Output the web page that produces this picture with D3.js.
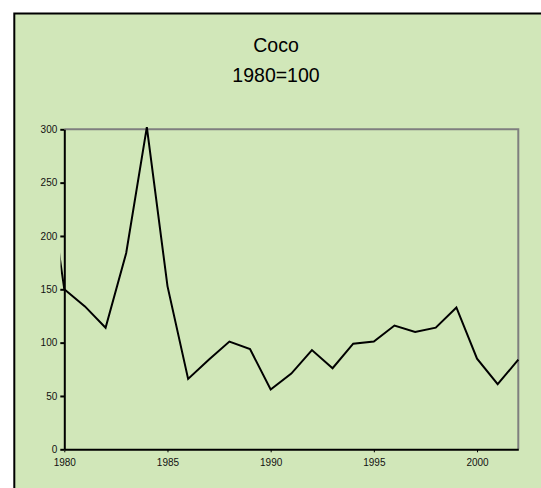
<!DOCTYPE html>
<html>
<head>
<meta charset="utf-8">
<script src="https://cdn.jsdelivr.net/npm/d3@7"></script>
<style>
  html, body { margin: 0; padding: 0; background: #ffffff; }
  svg { display: block; font-family: "Liberation Sans", Arial, sans-serif; }
</style>
</head>
<body>
<svg id="chart" width="541" height="488"></svg>
<script>
// Coconut index, 1980=100 (series begins with the 1979 value, clipped at the axis)
const years  = [1979, 1980, 1981, 1982, 1983, 1984, 1985, 1986, 1987, 1988, 1989, 1990,
                1991, 1992, 1993, 1994, 1995, 1996, 1997, 1998, 1999, 2000, 2001, 2002];
const values = [285, 150, 134, 114, 184, 302, 153, 66, 84, 101, 94, 56,
                71, 93, 76, 99, 101, 116, 110, 114, 133, 85, 61, 84];
const yTicks = [0, 50, 100, 150, 200, 250, 300];
const xTicks = [1980, 1985, 1990, 1995, 2000];
const titleLines = ["Coco", "1980=100"];

const svg = d3.select("#chart");
const W = 541, H = 488;
const bg = "#d1e7b9";

// Chart frame
svg.append("rect")
  .attr("x", 14.3).attr("y", 13.5)
  .attr("width", W + 20).attr("height", H + 20)
  .attr("fill", bg).attr("stroke", "#000").attr("stroke-width", 2);

// Title
svg.append("text")
  .attr("x", 276).attr("y", 52.3)
  .attr("text-anchor", "middle").attr("font-size", 19.5).attr("fill", "#000")
  .text(titleLines[0]);
svg.append("text")
  .attr("x", 276).attr("y", 81.7)
  .attr("text-anchor", "middle").attr("font-size", 19.5).attr("fill", "#000")
  .text(titleLines[1]);

const plotL = 64.3, plotR = 518.3, plotT = 129.3, plotB = 449.3;
const x = d3.scaleLinear().domain([1980, 2002]).range([plotL, plotR]);
const y = d3.scaleLinear().domain([0, 300]).range([plotB, plotT]);

// Plot area border (top and right sides in grey)
svg.append("path")
  .attr("d", `M${plotL},${plotT}H${plotR}V${plotB}`)
  .attr("fill", "none").attr("stroke", "#7f7f7f").attr("stroke-width", 2);

// Y axis
const yAxis = svg.append("g")
  .attr("transform", `translate(${plotL},0)`)
  .call(d3.axisLeft(y).tickValues(yTicks).tickSize(4).tickPadding(3).tickSizeOuter(0));
yAxis.select(".domain").attr("stroke", "#000").attr("stroke-width", 2);
yAxis.selectAll(".tick line").attr("stroke", "#000").attr("stroke-width", 2);
yAxis.selectAll(".tick text").attr("font-size", 10).attr("fill", "#111")
  .attr("font-family", "'Liberation Sans', Arial, sans-serif");

// X axis
const xAxis = svg.append("g")
  .attr("transform", `translate(0,${plotB})`)
  .call(d3.axisBottom(x).tickValues(xTicks).tickFormat(d3.format("d"))
        .tickSize(3).tickPadding(7).tickSizeOuter(0));
xAxis.select(".domain").attr("stroke", "#000").attr("stroke-width", 2);
xAxis.selectAll(".tick line").attr("stroke", "#000").attr("stroke-width", 1);
xAxis.selectAll(".tick text").attr("font-size", 10).attr("fill", "#111")
  .attr("font-family", "'Liberation Sans', Arial, sans-serif");

// Series line, clipped just past the left axis
svg.append("clipPath").attr("id", "plotClip")
  .append("rect").attr("x", 60.5).attr("y", 0).attr("width", plotR - 60.5 + 2).attr("height", H);

const line = d3.line()
  .x((d, i) => x(years[i]))
  .y(d => y(d));

svg.append("path")
  .datum(values)
  .attr("clip-path", "url(#plotClip)")
  .attr("d", line)
  .attr("fill", "none")
  .attr("stroke", "#000")
  .attr("stroke-width", 2)
  .attr("stroke-linejoin", "miter");
</script>
</body>
</html>
